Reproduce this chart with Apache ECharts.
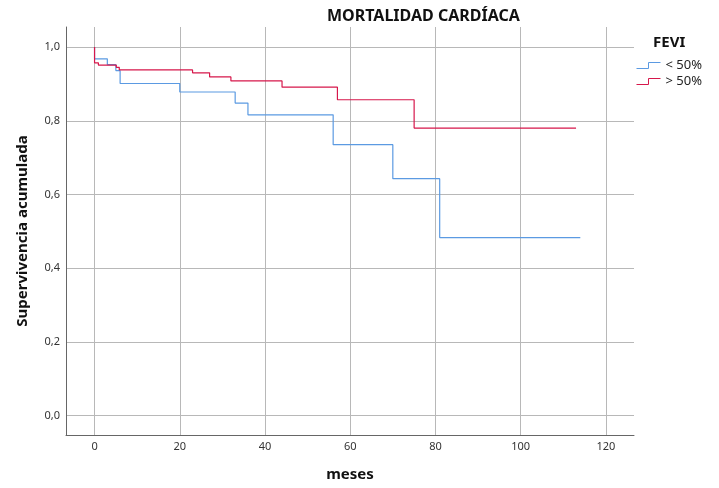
<!DOCTYPE html>
<html>
<head>
<meta charset="utf-8">
<script src="https://cdn.jsdelivr.net/npm/echarts@6/dist/echarts.min.js"></script>
<style>
  html, body { margin: 0; padding: 0; background: #fff; }
  #chart { width: 719px; height: 488px; }
</style>
</head>
<body>
<div id="chart"></div>
<script>
// datos (tiempo en meses, supervivencia acumulada)
const groupNames = ['< 50%', '> 50%'];
const lowTimes = [0, 0, 3, 5, 6, 20, 33, 36, 56, 70, 81, 114];
const lowSurv = [1.0, 0.968, 0.952, 0.936, 0.901, 0.878, 0.848, 0.816, 0.735, 0.643, 0.483, 0.483];
const highTimes = [0, 0, 0.9, 5.1, 5.8, 23, 27, 32, 44, 57, 75, 113];
const highSurv = [1.0, 0.957, 0.951, 0.945, 0.938, 0.930, 0.919, 0.908, 0.891, 0.857, 0.780, 0.780];
const xTicks = [0, 20, 40, 60, 80, 100, 120];
const yTicks = [0, 0.2, 0.4, 0.6, 0.8, 1.0];

const blue = '#5b9ae2';
const red = '#d6174b';
const font = 'Noto Sans';

const pairs = (xs, ys) => xs.map((x, i) => [x, ys[i]]);

const chart = echarts.init(document.getElementById('chart'));

const option = {
  animation: false,
  textStyle: { fontFamily: font },
  title: [
    {
      text: 'MORTALIDAD CARDÍACA',
      left: 322,
      top: 3,
      textStyle: { fontFamily: font, fontSize: 16, fontWeight: 'bold', color: '#111' }
    },
    {
      text: 'FEVI',
      left: 648,
      top: 30,
      textStyle: { fontFamily: font, fontSize: 15, fontWeight: 'bold', color: '#111' }
    }
  ],
  legend: {
    orient: 'vertical',
    left: 636,
    top: 59,
    padding: 0,
    itemWidth: 24,
    itemHeight: 6,
    itemGap: 3,
    symbolKeepAspect: false,
    selectedMode: false,
    textStyle: { fontFamily: font, fontSize: 13, color: '#222' },
    data: [
      {
        name: groupNames[0],
        icon: 'path://M0,10 L12,10 L12,0 L24,0',
        itemStyle: { color: 'rgba(0,0,0,0)', borderColor: blue, borderWidth: 1 }
      },
      {
        name: groupNames[1],
        icon: 'path://M0,10 L12,10 L12,0 L24,0',
        itemStyle: { color: 'rgba(0,0,0,0)', borderColor: red, borderWidth: 1 }
      }
    ]
  },
  grid: {
    left: 66,
    right: 85,
    top: 27,
    bottom: 53
  },
  xAxis: {
    type: 'value',
    min: -6.7,
    max: 126.6,
    name: 'meses',
    nameLocation: 'middle',
    nameGap: 32,
    nameTextStyle: { fontFamily: font, fontSize: 15, fontWeight: 'bold', color: '#111' },
    axisLine: { show: true, onZero: false, lineStyle: { color: '#666', width: 1 } },
    axisTick: { show: false, customValues: xTicks },
    axisLabel: { customValues: xTicks, margin: 6, fontSize: 11, color: '#333' },
    splitLine: { show: true, lineStyle: { color: '#b8b8b8', width: 1 } }
  },
  yAxis: {
    type: 'value',
    min: -0.0524,
    max: 1.0543,
    name: 'Supervivencia acumulada',
    nameLocation: 'middle',
    nameGap: 36,
    nameTextStyle: { fontFamily: font, fontSize: 15, fontWeight: 'bold', color: '#111' },
    axisLine: { show: true, onZero: false, lineStyle: { color: '#666', width: 1 } },
    axisTick: { show: false, customValues: yTicks },
    axisLabel: {
      customValues: yTicks,
      margin: 6,
      fontSize: 11,
      color: '#333',
      formatter: v => v.toFixed(1).replace('.', ',')
    },
    splitLine: { show: true, lineStyle: { color: '#b8b8b8', width: 1 } }
  },
  series: [
    {
      name: groupNames[0],
      type: 'line',
      step: 'end',
      showSymbol: false,
      color: blue,
      lineStyle: { color: blue, width: 1.2 },
      data: pairs(lowTimes, lowSurv)
    },
    {
      name: groupNames[1],
      type: 'line',
      step: 'end',
      showSymbol: false,
      color: red,
      lineStyle: { color: red, width: 1.2 },
      data: pairs(highTimes, highSurv)
    }
  ]
};

chart.setOption(option);
</script>
</body>
</html>
